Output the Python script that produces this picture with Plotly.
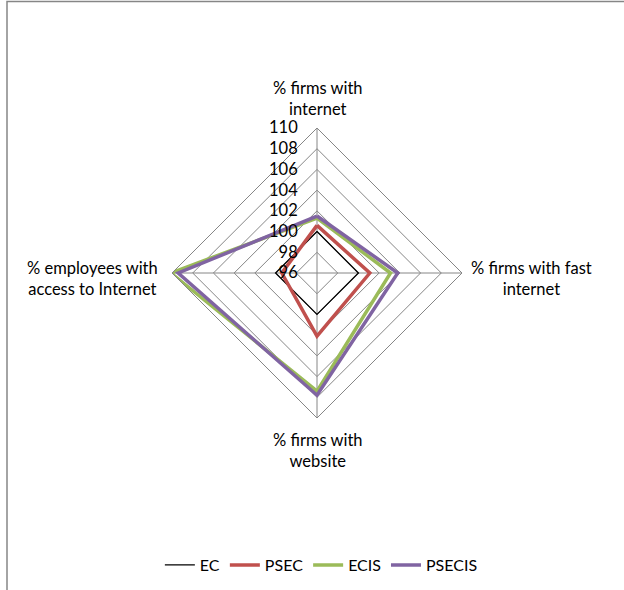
import plotly.graph_objects as go

# Axis categories (clockwise from the top)
categories = [
    "% firms with internet",
    "% firms with fast internet",
    "% firms with website",
    "% employees with access to Internet",
]

# Index values per series
ec = [100.0, 100.0, 100.0, 100.0]
psec = [100.6, 101.1, 102.1, 99.4]
ecis = [101.3, 103.1, 107.4, 110.1]
psecis = [101.5, 103.8, 107.8, 109.4]

radial_ticks = [96, 98, 100, 102, 104, 106, 108, 110]

series = [
    ("EC", ec, "#000000", 1.3),
    ("PSEC", psec, "#C0504D", 3.5),
    ("ECIS", ecis, "#9BBB59", 3.5),
    ("PSECIS", psecis, "#8064A2", 3.5),
]

FONT = "Lato"
TXT = 16.5

fig = go.Figure()
for name, vals, color, width in series:
    fig.add_trace(go.Scatterpolar(
        r=vals + vals[:1],
        theta=categories + categories[:1],
        mode="lines",
        name=name,
        line=dict(color=color, width=width),
    ))

W, H = 624, 590
cx, cy, rad = 317, 273, 145

fig.update_layout(
    width=W, height=H,
    margin=dict(l=0, r=0, t=0, b=0),
    paper_bgcolor="white",
    plot_bgcolor="white",
    font=dict(family=FONT, size=TXT, color="#000000"),
    polar=dict(
        domain=dict(x=[(cx - rad) / W, (cx + rad) / W],
                    y=[1 - (cy + rad) / H, 1 - (cy - rad) / H]),
        gridshape="linear",
        bgcolor="white",
        angularaxis=dict(
            rotation=90, direction="clockwise",
            showticklabels=False, ticks="",
            gridcolor="#868686", gridwidth=1,
            linecolor="#868686", linewidth=1,
        ),
        radialaxis=dict(
            range=[96, 110], tickvals=radial_ticks,
            angle=90, tickangle=90, side="counterclockwise",
            showline=False, ticks="outside", ticklen=13,
            tickcolor="rgba(0,0,0,0)",
            gridcolor="#868686", gridwidth=1,
            tickfont=dict(family=FONT, size=16.5),
        ),
    ),
    legend=dict(
        orientation="h", x=0.515, xanchor="center", y=1 - 565 / H, yanchor="middle",
        font=dict(family=FONT, size=16),
        itemwidth=30,
    ),
    showlegend=True,
)

# Category labels placed outside the web
labels = [
    ("% firms with<br>internet", 318, 98),
    ("% firms with fast<br>internet", 531, 278),
    ("% firms with<br>website", 318, 450),
    ("% employees with<br>access to Internet", 92, 278),
]
for text, x, y in labels:
    fig.add_annotation(
        text=text, x=x / W, y=1 - y / H, xref="paper", yref="paper",
        xanchor="center", yanchor="middle",
        showarrow=False, align="center", font=dict(family=FONT, size=TXT),
    )

# Chart-area border (top and left edges)
fig.add_shape(type="path", xref="paper", yref="paper",
              path=f"M {7 / W} 0 L {7 / W} {1 - 1.5 / H} L 1 {1 - 1.5 / H}",
              line=dict(color="#868686", width=1.5))

fig.write_html("out.html")
